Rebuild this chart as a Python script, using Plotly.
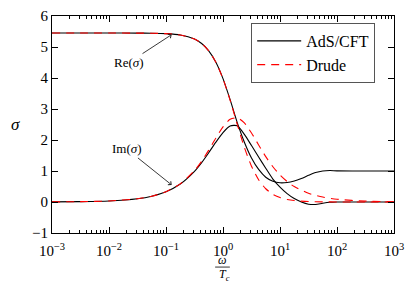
import plotly.graph_objects as go

# ---- data ----
omega_drude = [0.001, 0.00316, 0.01, 0.0316, 0.0562, 0.1, 0.178, 0.316, 0.422, 0.562, 0.750,
               1.0, 1.334, 1.778, 2.371, 3.162, 4.217, 5.623, 7.499, 10.0, 13.34, 17.78,
               31.62, 56.23, 100.0, 316.2, 1000.0]
re_drude = [5.45, 5.45, 5.45, 5.448, 5.444, 5.43, 5.387, 5.255, 5.112, 4.876, 4.507,
            3.972, 3.28, 2.504, 1.762, 1.154, 0.716, 0.427, 0.249, 0.143, 0.081, 0.046,
            0.015, 0.005, 0.0015, 0.0005, 0.0]
im_drude = [0.0033, 0.0105, 0.033, 0.105, 0.187, 0.331, 0.584, 1.013, 1.315, 1.673, 2.062,
            2.423, 2.668, 2.716, 2.549, 2.227, 1.841, 1.464, 1.137, 0.870, 0.660, 0.498,
            0.282, 0.159, 0.089, 0.028, 0.009]

omega_ads = [0.001, 0.00316, 0.01, 0.0316, 0.0562, 0.1, 0.178, 0.316, 0.422, 0.562, 0.750,
             1.0, 1.334, 1.778, 2.371, 3.162, 4.217, 5.623, 7.499, 10.0, 13.34, 17.78,
             23.71, 31.62, 42.17, 56.23, 74.99, 100.0, 316.2, 1000.0]
re_ads = [5.45, 5.45, 5.45, 5.448, 5.444, 5.43, 5.387, 5.255, 5.112, 4.876, 4.51,
          3.98, 3.30, 2.56, 1.93, 1.42, 1.05, 0.80, 0.67, 0.62, 0.63, 0.68,
          0.76, 0.86, 0.95, 1.0, 1.015, 1.005, 1.0, 1.0]
im_ads = [0.0033, 0.0105, 0.033, 0.105, 0.187, 0.331, 0.58, 0.99, 1.27, 1.59, 1.93,
          2.24, 2.45, 2.46, 2.18, 1.82, 1.45, 1.09, 0.74, 0.48, 0.27, 0.11,
          0.0, -0.07, -0.08, -0.04, -0.01, 0.0, 0.0, 0.0]

x_tick_vals = [0.001, 0.01, 0.1, 1, 10, 100, 1000]
x_tick_text = ["10<sup>−3</sup>", "10<sup>−2</sup>", "10<sup>−1</sup>", "10<sup>0</sup>",
               "10<sup>1</sup>", "10<sup>2</sup>", "10<sup>3</sup>"]
y_tick_vals = [-1, 0, 1, 2, 3, 4, 5, 6]
y_tick_text = ["−1", "0", "1", "2", "3", "4", "5", "6"]

FONT = "Liberation Serif"
minor_vals = [m * 10.0 ** e for e in range(-3, 3) for m in range(2, 10)]

fig = go.Figure()
black = dict(color="black", width=1.1, shape="spline", smoothing=0.7)
red = dict(color="#ff0000", width=1.1, dash="8px,6px", shape="spline", smoothing=0.7)
fig.add_trace(go.Scatter(x=omega_ads, y=re_ads, mode="lines", line=black, name="AdS/CFT"))
fig.add_trace(go.Scatter(x=omega_ads, y=im_ads, mode="lines", line=black,
                         name="AdS/CFT", showlegend=False))
fig.add_trace(go.Scatter(x=omega_drude, y=re_drude, mode="lines", line=red, name="Drude"))
fig.add_trace(go.Scatter(x=omega_drude, y=im_drude, mode="lines", line=red,
                         name="Drude", showlegend=False))

axis_common = dict(showline=True, linecolor="black", linewidth=1, mirror="allticks",
                   ticks="inside", ticklen=6, tickcolor="black", tickwidth=1,
                   showgrid=False, zeroline=False, automargin=False,
                   tickfont=dict(family=FONT, size=15, color="black"))

fig.update_xaxes(type="log", range=[-3, 3], tickmode="array", tickvals=x_tick_vals,
                 ticktext=x_tick_text, ticklabelstandoff=4,
                 minor=dict(ticks="inside", ticklen=3, tickcolor="black", tickwidth=1,
                            tickmode="array", tickvals=minor_vals, showgrid=False),
                 **axis_common)
fig.update_yaxes(range=[-1, 6], tickmode="array", tickvals=y_tick_vals,
                 ticktext=y_tick_text, **axis_common)

fig.update_layout(
    width=416, height=289,
    margin=dict(l=52, r=22, t=16, b=56),
    paper_bgcolor="white", plot_bgcolor="white",
    font=dict(family=FONT, color="black"),
    legend=dict(x=0.945, xanchor="right", y=0.968, yanchor="top",
                bordercolor="#555555", borderwidth=1, bgcolor="white",
                itemwidth=44, tracegroupgap=0,
                font=dict(family=FONT, size=16, color="black")),
    annotations=[
        dict(x=-0.90, y=5.40, xref="x", yref="y", text="Re(<i>σ</i>)",
             showarrow=True, ax=-43, ay=28, arrowhead=4, arrowsize=1, arrowwidth=0.9,
             arrowcolor="#222", font=dict(family=FONT, size=13, color="black")),
        dict(x=-0.90, y=0.55, xref="x", yref="y", text="Im(<i>σ</i>)",
             showarrow=True, ax=-45, ay=-36, arrowhead=4, arrowsize=1, arrowwidth=0.9,
             arrowcolor="#222", font=dict(family=FONT, size=13, color="black")),
        dict(x=-0.108, y=0.5, xref="paper", yref="paper", text="<i>σ</i>",
             xanchor="center", yanchor="middle",
             showarrow=False, font=dict(family=FONT, size=17, color="black")),
        dict(x=0.497, y=-0.125, xref="paper", yref="paper", text="<i>ω</i>",
             xanchor="center", yanchor="middle",
             showarrow=False, font=dict(family=FONT, size=12, color="black")),
        dict(x=0.503, y=-0.193, xref="paper", yref="paper", text="<i>T</i><sub><i>c</i></sub>",
             xanchor="center", yanchor="middle",
             showarrow=False, font=dict(family=FONT, size=12, color="black")),
    ],
    shapes=[dict(type="line", xref="paper", yref="paper", x0=0.477, x1=0.520,
                 y0=-0.157, y1=-0.157, line=dict(color="black", width=0.8))],
)

fig.write_html("out.html", config={"displayModeBar": False},
               post_script="document.body.style.margin='0';document.body.style.padding='0';"
                           "document.documentElement.style.overflow='hidden';")
